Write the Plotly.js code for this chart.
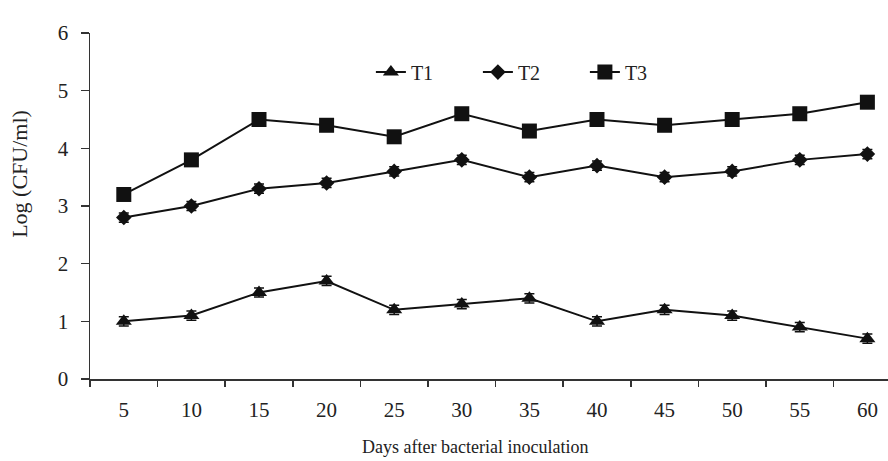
<!DOCTYPE html>
<html>
<head>
<meta charset="utf-8">
<script src="https://cdn.plot.ly/plotly-3.0.1.min.js"></script>
<style>html,body{margin:0;padding:0;background:#fff;}#chart{width:888px;height:461px;}</style>
</head>
<body>
<div id="chart"></div>
<script>
const days = ["5","10","15","20","25","30","35","40","45","50","55","60"];
const t1 = [1.0, 1.1, 1.5, 1.7, 1.2, 1.3, 1.4, 1.0, 1.2, 1.1, 0.9, 0.7];
const t2 = [2.8, 3.0, 3.3, 3.4, 3.6, 3.8, 3.5, 3.7, 3.5, 3.6, 3.8, 3.9];
const t3 = [3.2, 3.8, 4.5, 4.4, 4.2, 4.6, 4.3, 4.5, 4.4, 4.5, 4.6, 4.8];
const t1Err = [0.08, 0.08, 0.08, 0.08, 0.08, 0.08, 0.08, 0.08, 0.08, 0.08, 0.08, 0.08];
const t2Err = [0.08, 0.08, 0.08, 0.08, 0.08, 0.08, 0.08, 0.08, 0.08, 0.08, 0.08, 0.08];
const t3Err = [0.1, 0.1, 0.1, 0.1, 0.1, 0.1, 0.1, 0.1, 0.1, 0.1, 0.1, 0.1];
const seriesNames = ["T1", "T2", "T3"];
const xTitle = "Days after bacterial inoculation";
const yTitle = "Log (CFU/ml)";

const FONT = "Liberation Serif, Times New Roman, serif";
const INK = "#111";

function mk(name, y, err, symbol, size) {
  return {
    type: "scatter", mode: "lines+markers", name: name,
    x: days, y: y,
    line: {color: INK, width: 2},
    marker: {symbol: symbol, size: size, color: INK},
    error_y: {type: "data", array: err, visible: true, color: INK, thickness: 1.5, width: 5}
  };
}

const data = [
  mk(seriesNames[0], t1, t1Err, "triangle-up", 14),
  mk(seriesNames[1], t2, t2Err, "diamond", 12),
  mk(seriesNames[2], t3, t3Err, "square", 15)
];

const layout = {
  width: 888, height: 461,
  margin: {l: 90, r: 0, t: 33, b: 82},
  paper_bgcolor: "#fff", plot_bgcolor: "#fff",
  font: {family: FONT, color: "#222", size: 20},
  showlegend: true,
  legend: {
    orientation: "h", x: 0.352, xanchor: "left", y: 0.887, yanchor: "middle",
    font: {family: FONT, size: 20, color: "#222"},
    entrywidth: 62, entrywidthmode: "pixels",
    bgcolor: "rgba(0,0,0,0)", itemclick: false
  },
  xaxis: {
    type: "category", range: [-0.5, 11.305],
    tickson: "boundaries", ticks: "outside", ticklen: 6, tickwidth: 1.5, tickcolor: "#333",
    showline: true, linecolor: "#333", linewidth: 1.5, showgrid: false, zeroline: false,
    tickfont: {family: FONT, size: 21, color: "#222"},
    ticklabelstandoff: 11
  },
  yaxis: {
    range: [0, 6], tickvals: [0, 1, 2, 3, 4, 5, 6], ticktext: ["0","1","2","3","4","5","6"],
    ticks: "outside", ticklen: 8, tickwidth: 1.5, tickcolor: "#333",
    showline: true, linecolor: "#333", linewidth: 1.5, showgrid: false, zeroline: false,
    tickfont: {family: FONT, size: 21, color: "#222"},
    ticklabelstandoff: 8
  },
  annotations: [
    {text: xTitle, xref: "paper", yref: "paper", x: 0.4825, y: -0.197, xanchor: "center", yanchor: "middle",
     showarrow: false, font: {family: FONT, size: 18, color: "#222"}},
    {text: yTitle, xref: "paper", yref: "paper", x: -0.0877, y: 0.593, xanchor: "center", yanchor: "middle",
     textangle: -90, showarrow: false, font: {family: FONT, size: 22, color: "#222"}}
  ]
};

Plotly.newPlot("chart", data, layout, {displayModeBar: false, staticPlot: true});
</script>
</body>
</html>
